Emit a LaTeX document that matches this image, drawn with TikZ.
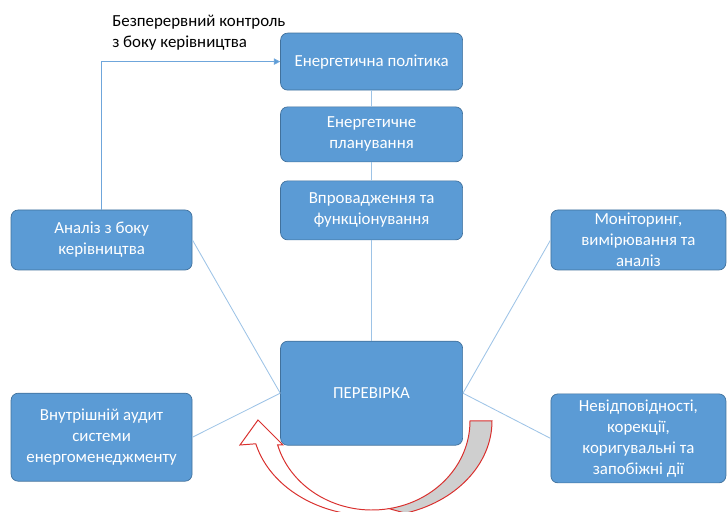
\documentclass[tikz,border=0pt]{standalone}
\usepackage{fontspec}
\setmainfont{Carlito}
\usepackage{tikz}
\usetikzlibrary{positioning,arrows.meta,calc}
\definecolor{boxfill}{HTML}{5B9BD5}
\definecolor{boxline}{HTML}{41719C}
\definecolor{link}{HTML}{9DC3E6}
\definecolor{feed}{HTML}{6FA6DB}
\definecolor{arrred}{HTML}{D9302E}
\definecolor{arrgrey}{HTML}{CFCFCF}

\begin{document}
\begin{tikzpicture}[
        blk/.style={rounded corners=5pt, draw=boxline, fill=boxfill, line width=0.5pt,
                    align=center, text=white, font=\fontsize{12}{15}\selectfont,
                    minimum width=4.55cm, inner sep=2pt},
        lnk/.style={draw=link, line width=0.6pt},
        uarrow/.style={draw=arrred, line width=0.7pt, line join=miter},
      ]
        \useasboundingbox (0,0) rectangle (18.175,12.8);
        \clip (0,0) rectangle (18.175,12.8);

        % centre column
        \node[blk, minimum height=1.425cm] (policy) at (9.29,11.26) {Енергетична політика};
        \node[blk, minimum height=1.375cm] (plan) at (9.29,9.44) {Енергетичне\\планування};
        \node[blk, minimum height=1.475cm] (impl) at (9.29,7.54) {Впровадження та\\функціонування};
        \node[blk, minimum height=2.6cm] (check) at (9.29,2.97) {ПЕРЕВІРКА};

        % left side
        \node[blk, minimum width=4.525cm, minimum height=1.5cm] (anal) at (2.54,6.8)
            {Аналіз з боку\\керівництва};
        \node[blk, minimum width=4.525cm, minimum height=2.2cm] (audit) at (2.54,1.87)
            {Внутрішній аудит\\системи\\енергоменеджменту};

        % right side
        \node[blk, minimum width=4.375cm, minimum height=1.5cm] (mon) at (15.96,6.8)
            {Моніторинг,\\вимірювання та\\аналіз};
        \node[blk, minimum width=4.375cm, minimum height=2.225cm] (noncon) at (15.96,1.84)
            {Невідповідності,\\корекції,\\коригувальні та\\запобіжні дії};

        % feedback label
        \node[anchor=west, align=left, inner sep=0pt, font=\fontsize{12}{15}\selectfont]
            (ctrl) at (2.8,11.99) {Безперервний контроль\\з боку керівництва};

        % connectors
        \draw[lnk] (policy) -- (plan);
        \draw[lnk] (plan) -- (impl);
        \draw[lnk] (impl) -- (check);
        \draw[lnk] (anal.east) -- (check.west);
        \draw[lnk] (audit.east) -- (check.west);
        \draw[lnk] (mon.west) -- (check.east);
        \draw[lnk] (noncon.west) -- (check.east);
        \draw[lnk, draw=feed, -{Triangle[length=4.5pt,width=4.5pt,fill=boxfill]}]
            (anal.north) |- (policy.west);

        % curved arrow under the check box
        \draw[uarrow, fill=arrgrey] (12.3,2.275)
            arc[start angle=0, end angle=-75, x radius=3.0cm, y radius=2.4cm]
            -- (9.7254,0.0838)
            arc[start angle=-80, end angle=0, x radius=2.45cm, y radius=2.225cm] -- cycle;
        \draw[uarrow, fill=white] (10.0765,-0.0132)
            arc[start angle=-75, end angle=-165.52, x radius=3.0cm, y radius=2.4cm]
            -- (6.0,1.675) -- (6.45,2.3) -- (7.075,1.675) -- (6.941,1.675)
            arc[start angle=195.64, end angle=280, x radius=2.45cm, y radius=2.225cm] -- cycle;
      \end{tikzpicture}
\end{document}
